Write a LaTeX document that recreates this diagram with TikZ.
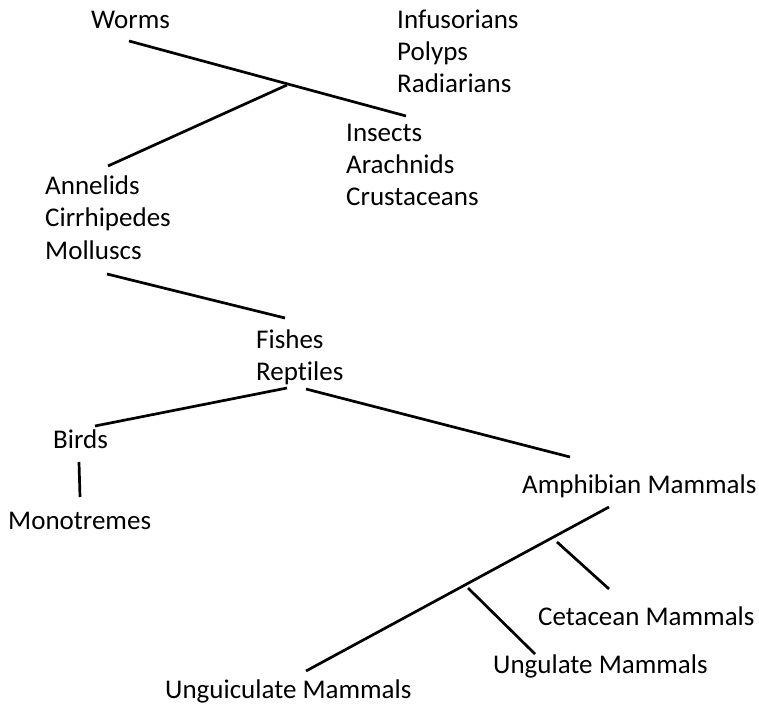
\documentclass[tikz,border=0pt]{standalone}
\usepackage{fontspec}
\setmainfont[Ligatures=NoCommon]{Carlito}
\begin{document}
\begin{tikzpicture}[x=1pt,y=-1pt,
  lbl/.style={anchor=base west,inner sep=0pt,font=\fontsize{27}{32}\selectfont},
  conn/.style={line width=2.7pt,line cap=butt}]
\useasboundingbox[fill=white] (0,0) rectangle (759,708);
% labels
\node[lbl] (worms) at (91,29) {Worms};
\node[lbl] (infus) at (397,29) {Infusorians};
\node[lbl] (polyps) at (397,61) {Polyps};
\node[lbl] (radia) at (397,93) {Radiarians};
\node[lbl] (insects) at (346,142) {Insects};
\node[lbl] (arach) at (346,174) {Arachnids};
\node[lbl] (crust) at (346,206) {Crustaceans};
\node[lbl] (annel) at (45,195) {Annelids};
\node[lbl] (cirr) at (45,227) {Cirrhipedes};
\node[lbl] (moll) at (45,259) {Molluscs};
\node[lbl] (fishes) at (256,348) {Fishes};
\node[lbl] (rept) at (256,380) {Reptiles};
\node[lbl] (birds) at (53,448) {Birds};
\node[lbl] (mono) at (8,529) {Monotremes};
\node[lbl] (amph) at (522,493) {Amphibian Mammals};
\node[lbl] (ceta) at (538,625) {Cetacean Mammals};
\node[lbl] (ungu) at (493,673) {Ungulate Mammals};
\node[lbl] (unguic) at (165,698) {Unguiculate Mammals};
% connector end points
\coordinate (w1) at (129,41);
\coordinate (w2) at (406,116);
\coordinate (j1) at (287,85);
\coordinate (a1) at (108,166);
\coordinate (m1) at (107,274);
\coordinate (f1) at (285,318);
\coordinate (r1) at (287,388);
\coordinate (b1) at (95,426);
\coordinate (r2) at (306,389);
\coordinate (am1) at (570,457);
\coordinate (b2) at (79,462);
\coordinate (mo1) at (80,497);
\coordinate (am2) at (609,507);
\coordinate (ug1) at (306,671);
\coordinate (c0) at (557,542);
\coordinate (c1) at (609,589);
\coordinate (u0) at (468,588);
\coordinate (u1) at (535,654);
% connectors
\draw[conn] (w1) -- (w2);
\draw[conn] (j1) -- (a1);
\draw[conn] (m1) -- (f1);
\draw[conn] (r1) -- (b1);
\draw[conn] (r2) -- (am1);
\draw[conn] (b2) -- (mo1);
\draw[conn] (am2) -- (ug1);
\draw[conn] (c0) -- (c1);
\draw[conn] (u0) -- (u1);
\end{tikzpicture}
\end{document}
